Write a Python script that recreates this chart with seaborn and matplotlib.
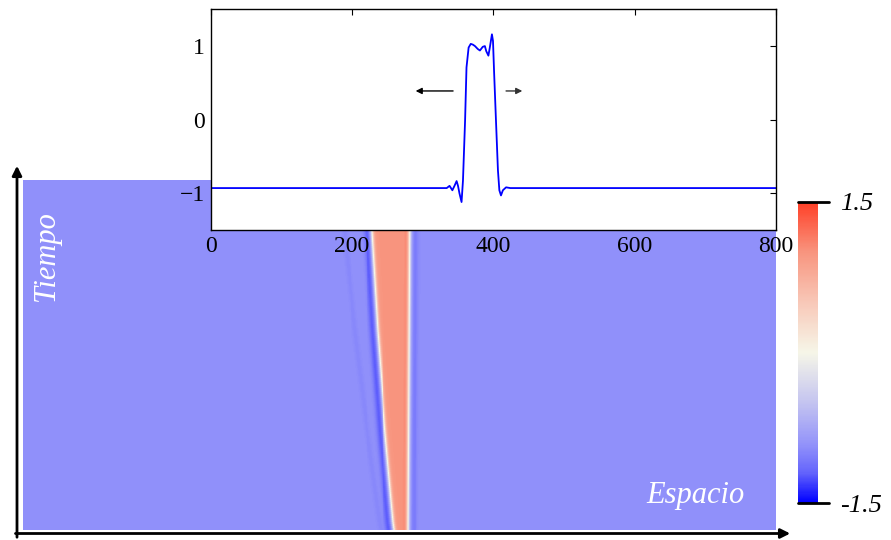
import numpy as np
import matplotlib
matplotlib.use("Agg")
import matplotlib.pyplot as plt
from matplotlib.colors import LinearSegmentedColormap
from matplotlib.patches import FancyArrowPatch
import seaborn as sns

# ---- final-time profile u(x) shown in the inset ----
profile_x = [0, 320, 330, 334, 338, 342, 345, 348, 350, 352, 355, 357, 360,
             362, 365, 368, 371, 374, 378, 381, 385, 388, 390, 393, 395, 398,
             399.5, 401, 403.7, 406.5, 408.5, 410.8, 413.5, 418, 424, 800]
profile_u = [-0.93, -0.93, -0.93, -0.93, -0.90, -0.96, -0.90, -0.835, -0.90,
             -1.00, -1.12, -0.83, -0.01, 0.71, 0.98, 1.03, 1.02, 1.00, 0.96,
             0.94, 0.99, 1.00, 0.93, 0.87, 0.98, 1.16, 1.07, 0.66, -0.01,
             -0.69, -0.96, -1.03, -0.96, -0.92, -0.93, -0.93]

# ---- space-time evolution: front positions over normalised time ----
time_knots = [0.0, 0.02, 0.094, 0.286, 0.571, 0.857, 1.0]
left_front = [394.0, 393.0, 390.6, 384.6, 377.0, 371.0, 365.5]
right_time = [0.0, 1.0]
right_front = [409.0, 411.0]
u_rest = -0.93       # background state
u_pulse = 1.0        # excited state inside the pulse
front_width = 2.2
dip_left = -0.30     # undershoot ahead of the left front
dip_right = -0.14    # undershoot ahead of the right front
ripple_amp = -0.05   # faint trailing ripple left of the pulse

n_space, n_time = 800, 175
xs = np.arange(n_space) + 0.5
ts = np.linspace(1.0, 0.0, n_time)          # top row = latest time
L = np.interp(ts, time_knots, left_front)[:, None]
R = np.interp(ts, right_time, right_front)[:, None]
T = ts[:, None]
X = xs[None, :]
field = u_rest + (u_pulse - u_rest) * 0.5 * (np.tanh((X - L) / front_width)
                                             - np.tanh((X - R) / front_width))
field += dip_left * np.exp(-((X - (L - 5.5)) / 3.4) ** 2)
field += dip_right * np.exp(-((X - (R + 6.0)) / 3.6) ** 2)
field += 0.10 * np.exp(-((X - (R - 3.5)) / 1.8) ** 2)
field += ripple_amp * np.exp(-((X - (L - 14.0 - 18.0 * T)) / 3.0) ** 2)

cmap = LinearSegmentedColormap.from_list(
    "campo",
    [(0.0, "#0000ff"), (0.1, "#6464fc"), (0.19, "#9191fa"), (0.333, "#c4c4f0"),
     (0.5, "#f6f6e8"), (0.667, "#f8c8b8"), (0.833, "#f8957f"), (1.0, "#ff4028")])

sns.set_style("white")
plt.rcParams["font.family"] = ["Liberation Serif", "DejaVu Serif"]
plt.rcParams["text.color"] = "black"
plt.rcParams["xtick.color"] = "black"
plt.rcParams["ytick.color"] = "black"

fig = plt.figure(figsize=(8.91, 5.40), dpi=100)
W, H = 891.0, 540.0

ax = fig.add_axes([23 / W, 10 / H, 753 / W, 350 / H])
cax = fig.add_axes([798 / W, 37 / H, 20 / W, 301 / H])
sns.heatmap(field, ax=ax, cmap=cmap, vmin=-1.5, vmax=1.5, cbar_ax=cax,
            xticklabels=False, yticklabels=False, rasterized=True)
ax.set_xlabel("")
ax.set_ylabel("")

cbar = ax.collections[0].colorbar
cbar.outline.set_visible(False)
cbar.set_ticks([-1.5, 1.5])
cbar.set_ticklabels(["-1.5", "1.5"])
cax.tick_params(length=0, pad=16, labelsize=19, labelcolor="black")
for lab in cax.get_yticklabels():
    lab.set_fontstyle("italic")
for v in (-1.5, 1.5):
    cax.axhline(v, xmin=0, xmax=1.55, color="black", lw=2, clip_on=False)

fig.text(46.5 / W, 1 - 256 / H, "Tiempo", rotation=90, color="white",
         style="italic", fontsize=22, ha="center", va="center")
fig.text(695 / W, 1 - 495 / H, "Espacio", color="white",
         style="italic", fontsize=22, ha="center", va="center")

# axis arrows of the space-time diagram
fig.add_artist(FancyArrowPatch((17 / W, 0.0), (17 / W, 1 - 163 / H),
                               transform=fig.transFigure, arrowstyle="-|>",
                               mutation_scale=14, lw=2, color="black"))
fig.add_artist(FancyArrowPatch((12.7 / W, 1 - 533.5 / H), (793 / W, 1 - 533.5 / H),
                               transform=fig.transFigure, arrowstyle="-|>",
                               mutation_scale=14, lw=2, color="black"))

# inset with the profile at the final time
ins = fig.add_axes([210.7 / W, 1 - 230 / H, 565.3 / W, 220.7 / H])
ins.set_facecolor("white")
sns.lineplot(x=profile_x, y=profile_u, ax=ins, color="#0000ff", lw=1.3)
ins.set_xlim(0, 800)
ins.set_ylim(-1.5, 1.5)
ins.set_xticks([0, 200, 400, 600, 800])
ins.set_yticks([-1, 0, 1])
ins.tick_params(direction="in", top=True, right=True, length=4.5, width=0.8,
                labelsize=17, pad=4, colors="black")
for s in ins.spines.values():
    s.set_visible(True)
    s.set_color("black")
    s.set_linewidth(1.0)
ins.annotate("", xy=(290, 0.39), xytext=(343, 0.39),
             arrowprops=dict(arrowstyle="-|>", color="black", lw=1.0,
                             mutation_scale=9, shrinkA=0, shrinkB=0))
ins.annotate("", xy=(441, 0.39), xytext=(418, 0.39),
             arrowprops=dict(arrowstyle="-|>", color="#333333", lw=1.0,
                             mutation_scale=9, shrinkA=0, shrinkB=0))

fig.savefig("out.png", dpi=100)
